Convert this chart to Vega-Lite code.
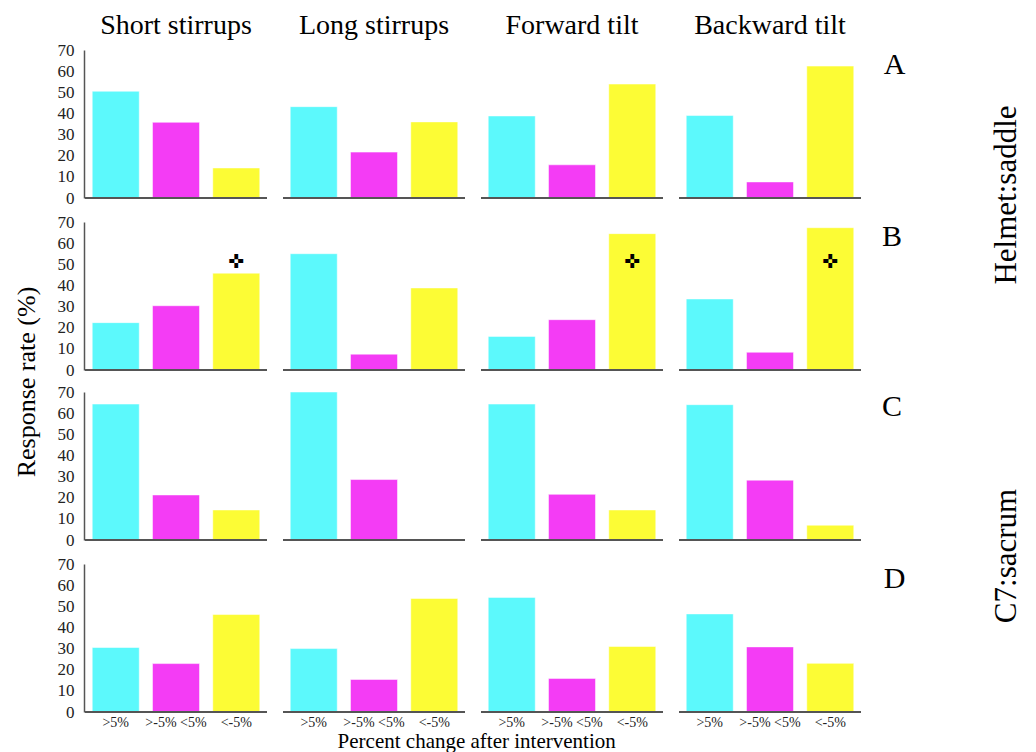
{
  "$schema": "https://vega.github.io/schema/vega-lite/v6.json",
  "padding": {"left": 13, "top": 12, "right": 5, "bottom": 0},
  "background": "white",
  "config": {
    "font": "Liberation Serif",
    "view": {"stroke": null},
    "axis": {"labelFont": "Liberation Serif", "titleFont": "Liberation Serif", "grid": false},
    "header": {"labelFont": "Liberation Serif", "titleFont": "Liberation Serif"},
    "concat": {"spacing": 5}
  },
  "data": {
    "values": [
      {"row": "A", "cond": "Short stirrups", "cat": ">5%", "value": 50.5, "star": false},
      {"row": "A", "cond": "Short stirrups", "cat": ">-5% <5%", "value": 35.8, "star": false},
      {"row": "A", "cond": "Short stirrups", "cat": "<-5%", "value": 14.2, "star": false},
      {"row": "A", "cond": "Long stirrups", "cat": ">5%", "value": 43.2, "star": false},
      {"row": "A", "cond": "Long stirrups", "cat": ">-5% <5%", "value": 21.7, "star": false},
      {"row": "A", "cond": "Long stirrups", "cat": "<-5%", "value": 36, "star": false},
      {"row": "A", "cond": "Forward tilt", "cat": ">5%", "value": 38.8, "star": false},
      {"row": "A", "cond": "Forward tilt", "cat": ">-5% <5%", "value": 15.7, "star": false},
      {"row": "A", "cond": "Forward tilt", "cat": "<-5%", "value": 53.9, "star": false},
      {"row": "A", "cond": "Backward tilt", "cat": ">5%", "value": 39, "star": false},
      {"row": "A", "cond": "Backward tilt", "cat": ">-5% <5%", "value": 7.6, "star": false},
      {"row": "A", "cond": "Backward tilt", "cat": "<-5%", "value": 62.4, "star": false},
      {"row": "B", "cond": "Short stirrups", "cat": ">5%", "value": 22.4, "star": false},
      {"row": "B", "cond": "Short stirrups", "cat": ">-5% <5%", "value": 30.4, "star": false},
      {"row": "B", "cond": "Short stirrups", "cat": "<-5%", "value": 45.8, "star": true},
      {"row": "B", "cond": "Long stirrups", "cat": ">5%", "value": 55, "star": false},
      {"row": "B", "cond": "Long stirrups", "cat": ">-5% <5%", "value": 7.5, "star": false},
      {"row": "B", "cond": "Long stirrups", "cat": "<-5%", "value": 38.8, "star": false},
      {"row": "B", "cond": "Forward tilt", "cat": ">5%", "value": 15.9, "star": false},
      {"row": "B", "cond": "Forward tilt", "cat": ">-5% <5%", "value": 23.8, "star": false},
      {"row": "B", "cond": "Forward tilt", "cat": "<-5%", "value": 64.5, "star": true},
      {"row": "B", "cond": "Backward tilt", "cat": ">5%", "value": 33.6, "star": false},
      {"row": "B", "cond": "Backward tilt", "cat": ">-5% <5%", "value": 8.4, "star": false},
      {"row": "B", "cond": "Backward tilt", "cat": "<-5%", "value": 67.3, "star": true},
      {"row": "C", "cond": "Short stirrups", "cat": ">5%", "value": 64.3, "star": false},
      {"row": "C", "cond": "Short stirrups", "cat": ">-5% <5%", "value": 21.3, "star": false},
      {"row": "C", "cond": "Short stirrups", "cat": "<-5%", "value": 14.2, "star": false},
      {"row": "C", "cond": "Long stirrups", "cat": ">5%", "value": 70, "star": false},
      {"row": "C", "cond": "Long stirrups", "cat": ">-5% <5%", "value": 28.6, "star": false},
      {"row": "C", "cond": "Long stirrups", "cat": "<-5%", "value": 0, "star": false},
      {"row": "C", "cond": "Forward tilt", "cat": ">5%", "value": 64.3, "star": false},
      {"row": "C", "cond": "Forward tilt", "cat": ">-5% <5%", "value": 21.6, "star": false},
      {"row": "C", "cond": "Forward tilt", "cat": "<-5%", "value": 14.2, "star": false},
      {"row": "C", "cond": "Backward tilt", "cat": ">5%", "value": 64, "star": false},
      {"row": "C", "cond": "Backward tilt", "cat": ">-5% <5%", "value": 28.3, "star": false},
      {"row": "C", "cond": "Backward tilt", "cat": "<-5%", "value": 7, "star": false},
      {"row": "D", "cond": "Short stirrups", "cat": ">5%", "value": 30.5, "star": false},
      {"row": "D", "cond": "Short stirrups", "cat": ">-5% <5%", "value": 22.9, "star": false},
      {"row": "D", "cond": "Short stirrups", "cat": "<-5%", "value": 46.1, "star": false},
      {"row": "D", "cond": "Long stirrups", "cat": ">5%", "value": 30, "star": false},
      {"row": "D", "cond": "Long stirrups", "cat": ">-5% <5%", "value": 15.4, "star": false},
      {"row": "D", "cond": "Long stirrups", "cat": "<-5%", "value": 53.7, "star": false},
      {"row": "D", "cond": "Forward tilt", "cat": ">5%", "value": 54.2, "star": false},
      {"row": "D", "cond": "Forward tilt", "cat": ">-5% <5%", "value": 15.9, "star": false},
      {"row": "D", "cond": "Forward tilt", "cat": "<-5%", "value": 31, "star": false},
      {"row": "D", "cond": "Backward tilt", "cat": ">5%", "value": 46.4, "star": false},
      {"row": "D", "cond": "Backward tilt", "cat": ">-5% <5%", "value": 30.8, "star": false},
      {"row": "D", "cond": "Backward tilt", "cat": "<-5%", "value": 23, "star": false}
    ]
  },
  "title": {"text": "Response rate (%)", "orient": "left", "anchor": "middle", "fontSize": 26, "fontWeight": "normal", "font": "Liberation Serif", "color": "black", "offset": 17},
  "vconcat": [
    {
      "title": {"text": "Percent change after intervention", "orient": "bottom", "anchor": "middle", "dx": -63, "fontSize": 21, "fontWeight": "normal", "font": "Liberation Serif", "color": "black", "offset": 2},
      "vconcat": [
        {
          "transform": [{"filter": "datum.row == 'A' || datum.row == 'B'"}],
          "title": {"text": "Helmet:saddle", "orient": "right", "anchor": "middle", "angle": -90, "fontSize": 31, "fontWeight": "normal", "font": "Liberation Serif", "color": "black", "offset": 56},
          "facet": {
            "row": {"field": "row", "type": "nominal", "header": {"title": null, "labelOrient": "right", "labelAngle": 0, "labelAnchor": "start", "labelAlign": "left", "labelBaseline": "top", "labelFontSize": 30, "labelColor": "black", "labelPadding": 0}},
            "column": {"field": "cond", "type": "nominal", "sort": ["Short stirrups", "Long stirrups", "Forward tilt", "Backward tilt"], "header": {"title": null, "labelOrient": "top", "labelFontSize": 28, "labelColor": "black", "labelPadding": 10}}
          },
          "spacing": {"row": 23, "column": 14},
          "spec": {
            "width": 182,
            "height": 148,
            "layer": [
              {
                "mark": {"type": "bar", "stroke": "white", "strokeOpacity": 0.5, "strokeWidth": 1},
                "encoding": {
                  "x": {"field": "cat", "type": "nominal", "sort": [">5%", ">-5% <5%", "<-5%"], "scale": {"paddingInner": 0.22, "paddingOuter": 0.12}, "axis": null},
                  "y": {"field": "value", "type": "quantitative", "scale": {"domain": [0, 70], "nice": false}, "axis": {"title": null, "values": [0, 10, 20, 30, 40, 50, 60, 70], "labelOverlap": false, "ticks": false, "domainColor": "#555555", "domainWidth": 1.5, "labelFontSize": 17, "labelColor": "#222222", "labelPadding": 10}},
                  "color": {"field": "cat", "type": "nominal", "scale": {"domain": [">5%", ">-5% <5%", "<-5%"], "range": ["#5cf9fc", "#f43cf5", "#fcfc35"]}, "legend": null}
                }
              },
              {
                "transform": [{"filter": "datum.star"}],
                "mark": {"type": "text", "text": "✜", "font": "DejaVu Sans", "fontSize": 19, "color": "black"},
                "encoding": {
                  "x": {"field": "cat", "type": "nominal", "sort": [">5%", ">-5% <5%", "<-5%"], "axis": null},
                  "y": {"datum": 51, "type": "quantitative", "axis": {"title": null, "values": [0, 10, 20, 30, 40, 50, 60, 70], "labelOverlap": false, "ticks": false, "domainColor": "#555555", "domainWidth": 1.5, "labelFontSize": 17, "labelColor": "#222222", "labelPadding": 10}}
                }
              },
              {
                "mark": {"type": "rule", "color": "#555555", "strokeWidth": 2},
                "encoding": {"y": {"datum": 0, "type": "quantitative", "axis": {"title": null, "values": [0, 10, 20, 30, 40, 50, 60, 70], "labelOverlap": false, "ticks": false, "domainColor": "#555555", "domainWidth": 1.5, "labelFontSize": 17, "labelColor": "#222222", "labelPadding": 10}}}
              }
            ]
          }
        },
        {
          "transform": [{"filter": "datum.row == 'C' || datum.row == 'D'"}],
          "title": {"text": "C7:sacrum", "orient": "right", "anchor": "middle", "angle": -90, "fontSize": 31, "fontWeight": "normal", "font": "Liberation Serif", "color": "black", "offset": 56},
          "facet": {
            "row": {"field": "row", "type": "nominal", "header": {"title": null, "labelOrient": "right", "labelAngle": 0, "labelAnchor": "start", "labelAlign": "left", "labelBaseline": "top", "labelFontSize": 30, "labelColor": "black", "labelPadding": 0}},
            "column": {"field": "cond", "type": "nominal", "sort": ["Short stirrups", "Long stirrups", "Forward tilt", "Backward tilt"], "header": {"title": null, "labels": false}}
          },
          "spacing": {"row": 23, "column": 14},
          "spec": {
            "width": 182,
            "height": 148,
            "layer": [
              {
                "mark": {"type": "bar", "stroke": "white", "strokeOpacity": 0.5, "strokeWidth": 1},
                "encoding": {
                  "x": {"field": "cat", "type": "nominal", "sort": [">5%", ">-5% <5%", "<-5%"], "scale": {"paddingInner": 0.22, "paddingOuter": 0.12}, "axis": {"title": null, "labelAngle": 0, "labelFontSize": 14, "labelColor": "#222222", "labelPadding": 2, "domain": false, "ticks": false}},
                  "y": {"field": "value", "type": "quantitative", "scale": {"domain": [0, 70], "nice": false}, "axis": {"title": null, "values": [0, 10, 20, 30, 40, 50, 60, 70], "labelOverlap": false, "ticks": false, "domainColor": "#555555", "domainWidth": 1.5, "labelFontSize": 17, "labelColor": "#222222", "labelPadding": 10}},
                  "color": {"field": "cat", "type": "nominal", "scale": {"domain": [">5%", ">-5% <5%", "<-5%"], "range": ["#5cf9fc", "#f43cf5", "#fcfc35"]}, "legend": null}
                }
              },
              {
                "mark": {"type": "rule", "color": "#555555", "strokeWidth": 2},
                "encoding": {"y": {"datum": 0, "type": "quantitative", "axis": {"title": null, "values": [0, 10, 20, 30, 40, 50, 60, 70], "labelOverlap": false, "ticks": false, "domainColor": "#555555", "domainWidth": 1.5, "labelFontSize": 17, "labelColor": "#222222", "labelPadding": 10}}}
              }
            ]
          }
        }
      ]
    }
  ]
}
